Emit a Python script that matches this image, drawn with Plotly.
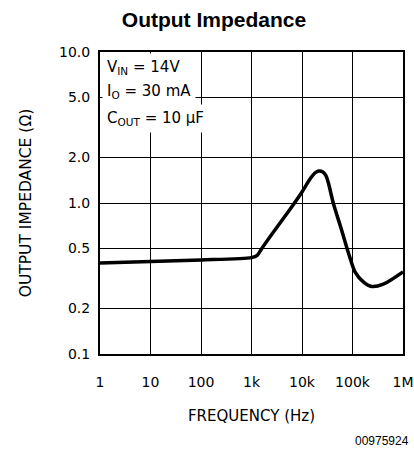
import plotly.graph_objects as go

# Data
freq_hz = [1, 10, 100, 1000, 1300, 1600, 2700, 5800, 9800, 14400, 18000, 21500,
           25500, 29800, 33100, 41600, 61000, 82600, 112000, 164000, 240000,
           408000, 1000000]
impedance_ohm = [0.40, 0.41, 0.42, 0.435, 0.45, 0.50, 0.64, 0.91, 1.17, 1.44,
                 1.58, 1.63, 1.61, 1.52, 1.37, 1.00, 0.66, 0.47, 0.35, 0.30,
                 0.28, 0.29, 0.35]

x_tickvals = [1, 10, 100, 1000, 10000, 100000, 1000000]
x_ticktext = ["1", "10", "100", "1k", "10k", "100k", "1M"]
y_tickvals = [0.1, 0.2, 0.5, 1, 2, 5, 10]
y_ticktext = ["0.1", "0.2", "0.5", "1.0", "2.0", "5.0", "10.0"]

conditions = ["V<sub>IN</sub> = 14V", "I<sub>O</sub> = 30 mA", "C<sub>OUT</sub> = 10 \u03bcF"]

W, H = 414, 451
L, R, T, B = 100, 11, 52, 97
pw, ph = W - L - R, H - T - B

FONT = "DejaVu Sans"

fig = go.Figure()
fig.add_trace(go.Scatter(
    x=freq_hz, y=impedance_ohm, mode="lines",
    line=dict(color="black", width=3.5, shape="spline", smoothing=0.7),
    showlegend=False, hoverinfo="skip",
))

fig.update_layout(
    width=W, height=H,
    margin=dict(l=L, r=R, t=T, b=B),
    paper_bgcolor="white", plot_bgcolor="white",
    title=dict(text="<b>Output Impedance</b>", x=214 / W, xref="container",
               xanchor="center", y=1 - 20 / H, yref="container", yanchor="middle",
               font=dict(family="Liberation Sans, Arial", size=21, color="black")),
    font=dict(family=FONT, color="black"),
)

fig.update_xaxes(
    type="log", range=[0, 6], tickvals=x_tickvals, ticktext=x_ticktext,
    showgrid=True, gridcolor="black", gridwidth=1,
    showline=True, linecolor="black", linewidth=2, mirror=True,
    ticks="", ticklabelstandoff=14,
    tickfont=dict(family=FONT, size=14, color="black"),
    title=dict(text="FREQUENCY (Hz)", font=dict(family=FONT, size=15, color="black"),
               standoff=22),
    automargin=False, zeroline=False,
)
fig.update_yaxes(
    type="log", range=[-1, 1], tickvals=y_tickvals, ticktext=y_ticktext,
    showgrid=True, gridcolor="black", gridwidth=1,
    showline=True, linecolor="black", linewidth=2, mirror=True,
    ticks="", ticklabelstandoff=5,
    tickfont=dict(family=FONT, size=14, color="black"),
    title=dict(text="OUTPUT IMPEDANCE (\u03a9)", font=dict(family=FONT, size=15.5, color="black"),
               standoff=24),
    automargin=False, zeroline=False,
)

# condition labels with white backgrounds
centers_px = [67, 91, 118]
for txt, cy in zip(conditions, centers_px):
    fig.add_annotation(
        text=txt, xref="paper", yref="paper",
        x=2 / pw, xanchor="left", y=1 - (cy - T) / ph, yanchor="middle",
        showarrow=False, align="left", bgcolor="white", borderpad=4,
        font=dict(family=FONT, size=15, color="black"),
    )

fig.add_annotation(
    text="00975924", xref="paper", yref="paper",
    x=(410.5 - L) / pw, xanchor="right", y=1 - (441 - T) / ph, yanchor="middle",
    showarrow=False, font=dict(family="Liberation Sans, Arial", size=12, color="black"),
)

fig.write_html("out.html", config={"displayModeBar": False},
               post_script="document.body.style.margin='0';document.body.style.overflow='hidden';")
